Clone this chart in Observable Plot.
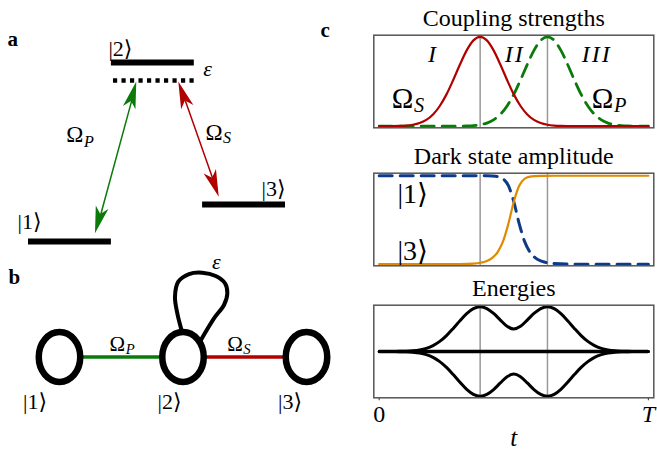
<!DOCTYPE html>
<html><head><meta charset="utf-8">
<script src="https://cdn.jsdelivr.net/npm/d3@7"></script>
<script src="https://cdn.jsdelivr.net/npm/@observablehq/plot@0.6"></script>
<style>
html,body{margin:0;padding:0;background:#fff;}
#fig{position:relative;width:657px;height:449px;overflow:hidden;background:#fff;}
#fig svg{position:absolute;left:0;top:0;}
#fig svg text{font-family:"Liberation Serif","DejaVu Serif",serif !important;}
</style></head><body><div id="fig"></div>
<script>
// ---------------- data ----------------
// panel c: time grid (fraction of T)
const tGrid = [0,0.025,0.05,0.075,0.1,0.125,0.15,0.175,0.2,0.225,0.25,0.275,0.3,0.325,0.35,0.375,0.4,0.425,0.45,0.475,0.5,0.525,0.55,0.575,0.6,0.625,0.65,0.675,0.7,0.725,0.75,0.775,0.8,0.825,0.85,0.875,0.9,0.925,0.95,0.975,1];
const omegaS = [0,0,0.001,0.003,0.007,0.016,0.035,0.071,0.132,0.226,0.356,0.517,0.690,0.848,0.960,1.000,0.960,0.848,0.690,0.517,0.356,0.226,0.132,0.071,0.035,0.016,0.007,0.003,0.001,0,0,0,0,0,0,0,0,0,0,0,0];
const omegaP = [0,0,0,0,0,0,0,0,0,0,0,0,0.001,0.003,0.007,0.016,0.035,0.071,0.132,0.226,0.356,0.517,0.690,0.848,0.960,1.000,0.960,0.848,0.690,0.517,0.356,0.226,0.132,0.071,0.035,0.016,0.007,0.003,0.001,0,0];
const energyUpper = [0,0,0.001,0.003,0.007,0.016,0.035,0.071,0.132,0.226,0.356,0.517,0.690,0.848,0.960,1.000,0.961,0.851,0.703,0.564,0.503,0.564,0.703,0.851,0.961,1.000,0.960,0.848,0.690,0.517,0.356,0.226,0.132,0.071,0.035,0.016,0.007,0.003,0.001,0,0];
const energyLower = [0,0,-0.001,-0.003,-0.007,-0.016,-0.035,-0.071,-0.132,-0.226,-0.356,-0.517,-0.690,-0.848,-0.960,-1.000,-0.961,-0.851,-0.703,-0.564,-0.503,-0.564,-0.703,-0.851,-0.961,-1.000,-0.960,-0.848,-0.690,-0.517,-0.356,-0.226,-0.132,-0.071,-0.035,-0.016,-0.007,-0.003,-0.001,0,0];
const tDark = [0,0.1,0.2,0.3,0.35,0.4,0.42,0.44,0.46,0.48,0.5,0.52,0.54,0.56,0.58,0.6,0.65,0.7,0.8,0.9,1];
const amp1 = [1,1,1,1,1,0.999,0.997,0.991,0.966,0.888,0.707,0.459,0.258,0.137,0.071,0.037,0.007,0.001,0,0,0];
const amp3 = [0,0,0,0.001,0.007,0.037,0.071,0.137,0.258,0.459,0.707,0.888,0.966,0.991,0.997,0.999,1,1,1,1,1];
const regionBounds = [0.375, 0.625];
const regionLabels = ["I", "I\u200aI", "I\u200aI\u200aI"];
const regionCenters = [0.196, 0.5, 0.804];
const panelTitles = ["Coupling strengths", "Dark state amplitude", "Energies"];
const timeTicks = [0, 1];
const timeTickLabels = ["0", "T"];

// panel a: level scheme (x in level-widths, E in arbitrary energy units)
const levelLabels = ["|1⟩", "|2⟩", "|3⟩"];
const levelEnergies = [0, 4.84, 1.0];
const levelStart = [0, 1, 2.1];
const levelEnd = [1, 2, 3.1];
const virtualLevel = {E: 4.354, x1: 1.025, x2: 2.04};
const transitions = [
  {name: "P", x1: 0.808, y1: 0.208, x2: 1.306, y2: 4.31},
  {name: "S", x1: 1.813, y1: 4.31, x2: 2.301, y2: 1.198}
];

// panel b: graph (x in node spacings)
const nodes = [0, 1, 2];
const nodeLabels = ["|1⟩", "|2⟩", "|3⟩"];
const couplings = [{from: 0, to: 1, name: "P"}, {from: 1, to: 2, name: "S"}];
const selfLoop = [
  {x: 0.996, y: 0.19}, {x: 0.954, y: 0.354}, {x: 0.935, y: 0.488}, {x: 0.962, y: 0.610},
  {x: 1.049, y: 0.672}, {x: 1.156, y: 0.683}, {x: 1.265, y: 0.656}, {x: 1.340, y: 0.597},
  {x: 1.359, y: 0.516}, {x: 1.332, y: 0.421}, {x: 1.251, y: 0.313}, {x: 1.135, y: 0.12}
];

// ---------------- styling ----------------
const W = 657, H = 449;
const SERIF = "Liberation Serif";
const RED = "#b00000", GREEN = "#0b7a0b", ORANGE = "#e08a00", BLUE = "#0d3b87";
const colorOf = (name) => name === "P" ? GREEN : RED;
const baseStyle = {background: "transparent", fontFamily: "'Liberation Serif', serif", overflow: "visible"};

const label = (text, opts) => Plot.text([text], {text: (d) => d, lineAnchor: "bottom", fill: "black", fontFamily: SERIF, ...opts});
function omegaLabel(sub, x, y, size, subDy, extra = {}) {
  return [
    Plot.text(["Ω"], {text: (d) => d, x, y, textAnchor: "end", lineAnchor: "bottom", fontSize: size, fontFamily: SERIF, ...extra}),
    Plot.text([sub], {text: (d) => d, x, y, textAnchor: "start", lineAnchor: "bottom", fontSize: size * 0.7, fontStyle: "italic", fontFamily: SERIF, dy: (extra.dy || 0) + subDy, dx: (extra.dx || 0) + 0.5})
  ];
}

// filled stealth heads at both ends of each transition arrow (positions via Plot's scales)
function arrowHeads(data, {length = 27, halfWidth = 6.5, notch = 20} = {}) {
  return (index, scales) => {
    const g = d3.create("svg:g");
    for (const d of data) {
      const a = [scales.x(d.x1), scales.y(d.y1)], b = [scales.x(d.x2), scales.y(d.y2)];
      for (const [tip, other] of [[a, b], [b, a]]) {
        const L = Math.hypot(other[0] - tip[0], other[1] - tip[1]);
        const ux = (other[0] - tip[0]) / L, uy = (other[1] - tip[1]) / L, nx = -uy, ny = ux;
        const p = (s, w) => [tip[0] + ux * s + nx * w, tip[1] + uy * s + ny * w];
        g.append("path")
          .attr("d", `M${tip}L${p(length, halfWidth)}L${p(notch, 0)}L${p(length, -halfWidth)}Z`)
          .attr("fill", colorOf(d.name));
      }
    }
    return g.node();
  };
}

// ellipse symbol for graph nodes
const ellipseSymbol = {
  draw(ctx, size) {
    const ry = Math.sqrt(size / Math.PI), rx = ry * 0.83, k = 0.5523;
    ctx.moveTo(rx, 0);
    ctx.bezierCurveTo(rx, k * ry, k * rx, ry, 0, ry);
    ctx.bezierCurveTo(-k * rx, ry, -rx, k * ry, -rx, 0);
    ctx.bezierCurveTo(-rx, -k * ry, -k * rx, -ry, 0, -ry);
    ctx.bezierCurveTo(k * rx, -ry, rx, -k * ry, rx, 0);
    ctx.closePath();
  }
};

const fig = document.getElementById("fig");

// ---------------- panel a ----------------
const levels = levelLabels.map((name, i) => ({name, E: levelEnergies[i], x1: levelStart[i], x2: levelEnd[i]}));
fig.append(Plot.plot({
  width: W, height: H, margin: 0, style: baseStyle,
  x: {domain: [0, 3.1], range: [28, 285], axis: null},
  y: {domain: [0, 4.84], range: [241, 62], axis: null},
  marks: [
    Plot.ruleY(levels, {y: "E", x1: "x1", x2: "x2", stroke: "black", strokeWidth: 6}),
    Plot.ruleY([virtualLevel], {y: "E", x1: "x1", x2: "x2", stroke: "black", strokeWidth: 4.5, strokeDasharray: "4.2,4.3"}),
    ...transitions.map((t) => Plot.arrow([t], {x1: "x1", y1: "y1", x2: "x2", y2: "y2", stroke: colorOf(t.name), strokeWidth: 1.5, headLength: 0, insetStart: 20, insetEnd: 20})),
    arrowHeads(transitions),
    label(levelLabels[0], {x: levelStart[0], y: levelEnergies[0], dx: -11, dy: -13, textAnchor: "start", fontSize: 22}),
    label(levelLabels[1], {x: levelStart[1], y: levelEnergies[1], dx: -3, dy: -7, textAnchor: "start", fontSize: 22}),
    label(levelLabels[2], {x: levelEnd[2], y: levelEnergies[2], dx: 0, dy: -9, textAnchor: "end", fontSize: 22}),
    label("ε", {x: levelEnd[1], y: levelEnergies[1], dx: 9, dy: 13, textAnchor: "start", fontSize: 22, fontStyle: "italic"}),
    ...omegaLabel("P", 0.663, 2.677, 23, 5),
    ...omegaLabel("S", 2.340, 2.731, 23, 3),
    label("a", {frameAnchor: "top-left", dx: 7, dy: 45, textAnchor: "start", fontSize: 21, fontWeight: "bold"}),
    label("b", {frameAnchor: "top-left", dx: 8, dy: 283, textAnchor: "start", fontSize: 21, fontWeight: "bold"}),
    label("c", {frameAnchor: "top-left", dx: 320, dy: 36, textAnchor: "start", fontSize: 21, fontWeight: "bold"})
  ]
}));

// ---------------- panel b ----------------
fig.append(Plot.plot({
  width: W, height: H, margin: 0, style: baseStyle,
  x: {domain: [0, 2], range: [59, 306], axis: null},
  y: {domain: [-1, 1], range: [480, 233], axis: null},
  marks: [
    ...couplings.map((c) => Plot.link([c], {x1: "from", x2: "to", y1: 0, y2: 0, stroke: colorOf(c.name), strokeWidth: 3.3})),
    Plot.line(selfLoop, {x: "x", y: "y", curve: "catmull-rom", stroke: "black", strokeWidth: 4}),
    Plot.dot(nodes, {x: (d) => d, y: 0, r: 25, symbol: ellipseSymbol, fill: "white", stroke: "black", strokeWidth: 6.5}),
    label(nodeLabels[0], {x: nodes[0], y: 0, dx: -24.5, dy: 52, textAnchor: "middle", fontSize: 22}),
    label(nodeLabels[1], {x: nodes[1], y: 0, dx: -13.5, dy: 52, textAnchor: "middle", fontSize: 22}),
    label(nodeLabels[2], {x: nodes[2], y: 0, dx: -16.5, dy: 52, textAnchor: "middle", fontSize: 22}),
    label("ε", {x: nodes[1], y: 0, dx: 29, dy: -88, textAnchor: "start", fontSize: 22, fontStyle: "italic"}),
    ...omegaLabel("P", 0.532, 0, 21, 3, {dy: -6.5}),
    ...omegaLabel("S", 1.484, 0, 21, 3, {dy: -6.5})
  ]
}));

// ---------------- panel c ----------------
function rightPanel(top, bottom, yDomain, marks) {
  return Plot.plot({
    width: W, height: H, style: baseStyle,
    marginLeft: 373.3, marginRight: W - 653.3, marginTop: top, marginBottom: H - bottom,
    x: {domain: [-0.02, 1.02], axis: null},
    y: {domain: yDomain, axis: null},
    marks
  });
}
const titleMark = (text) => label(text, {frameAnchor: "top", dy: -9.6, fontSize: 24});
const frameMark = Plot.frame({stroke: "#555", strokeWidth: 1.5});
const dividers = Plot.ruleX(regionBounds, {stroke: "#999", strokeWidth: 1.5});

const coupling = tGrid.map((t, i) => ({t, S: omegaS[i], P: omegaP[i], up: energyUpper[i], lo: energyLower[i]}));
const dark = tDark.map((t, i) => ({t, a1: amp1[i], a3: amp3[i]}));

fig.append(rightPanel(34.7, 127.3, [-0.018, 1.018], [
  dividers,
  Plot.line(coupling, {x: "t", y: "P", stroke: GREEN, strokeWidth: 2.8, strokeDasharray: "13,8", curve: "monotone-x"}),
  Plot.line(coupling, {x: "t", y: "S", stroke: RED, strokeWidth: 2.2, curve: "monotone-x"}),
  Plot.text(regionLabels, {text: (d) => d, x: (d, i) => regionCenters[i], y: 0.72, lineAnchor: "bottom", fontSize: 24, fontStyle: "italic", fontFamily: SERIF}),
  ...omegaLabel("S", 0.127, 0.198, 29, 3.5),
  ...omegaLabel("P", 0.870, 0.198, 29, 3.5),
  titleMark(panelTitles[0]),
  frameMark
]));

fig.append(rightPanel(172.7, 265.3, [-0.018, 1.029], [
  dividers,
  Plot.line(dark, {x: "t", y: "a1", stroke: BLUE, strokeWidth: 3, strokeDasharray: "13,8", curve: "monotone-x"}),
  Plot.line(dark, {x: "t", y: "a3", stroke: ORANGE, strokeWidth: 2.2, curve: "monotone-x"}),
  label("|1⟩", {x: 0.068, y: 0.69, textAnchor: "start", fontSize: 28}),
  label("|3⟩", {x: 0.068, y: 0.05, textAnchor: "start", fontSize: 28}),
  titleMark(panelTitles[1]),
  frameMark
]));

fig.append(rightPanel(304.7, 397.3, [-1.036, 1.036], [
  dividers,
  Plot.ruleY([0], {x1: 0, x2: 1, stroke: "black", strokeWidth: 3.6}),
  Plot.line(coupling, {x: "t", y: "up", stroke: "black", strokeWidth: 3, curve: "monotone-x"}),
  Plot.line(coupling, {x: "t", y: "lo", stroke: "black", strokeWidth: 3, curve: "monotone-x"}),
  Plot.ruleX(timeTicks, {y1: -1.036, y2: -1.036, insetBottom: -3, stroke: "#555", strokeWidth: 1.2}),
  label(timeTickLabels[0], {x: timeTicks[0], frameAnchor: "bottom", dy: 23.7, fontSize: 24}),
  label(timeTickLabels[1], {x: timeTicks[1], frameAnchor: "bottom", dy: 23.7, fontSize: 24, fontStyle: "italic"}),
  label("t", {frameAnchor: "bottom", dy: 47.7, fontSize: 25, fontStyle: "italic"}),
  titleMark(panelTitles[2]),
  frameMark
]));
</script></body></html>
